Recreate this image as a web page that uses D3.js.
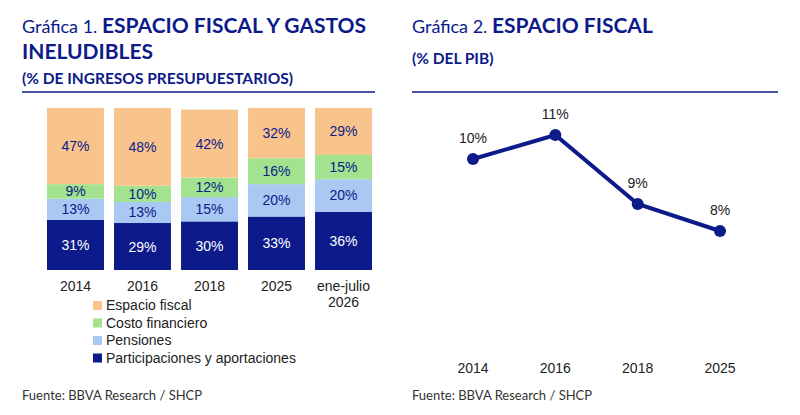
<!DOCTYPE html><html><head><meta charset="utf-8">
<script src="https://cdn.jsdelivr.net/npm/d3@7"></script>
<style>body{margin:0;background:#fff}svg{display:block}</style></head><body>
<svg id="c" width="800" height="415"></svg>
<script>
const categories=["2014","2016","2018","2025","ene-julio\n2026"];
const participaciones=[31,29,30,33,36];
const pensiones=[13,13,15,20,20];
const costo=[9,10,12,16,15];
const espacio=[47,48,42,32,29];
const seriesNames=["Participaciones y aportaciones","Pensiones","Costo financiero","Espacio fiscal"];
const years2=["2014","2016","2018","2025"];
const pib=[10.4,11.2,8.9,8.0];
const pibLabels=["10%","11%","9%","8%"];

const navy="#0c1a8a", colors=["#0c1a8a","#a9c9f2","#a3e28e","#f8c48c"];
const svg=d3.select("#c");
const F="Liberation Sans, Arial, sans-serif", T="Lato, sans-serif";

function header(x,line1a,line1b,line2,sub,y0,x2){
  const t=svg.append("text").attr("x",x).attr("y",33).attr("font-family",T).attr("fill",navy).attr("font-size",18);
  t.append("tspan").text(line1a);
  t.append("tspan").attr("font-weight","bold").attr("font-size",21).text(line1b);
  if(line2) svg.append("text").attr("x",x).attr("y",59).attr("font-family",T).attr("font-weight","bold").attr("font-size",21).attr("fill",navy).text(line2);
  svg.append("text").attr("x",x).attr("y",y0).attr("font-family",T).attr("font-weight","bold").attr("font-size",15.5).attr("fill",navy).text(sub);
  svg.append("line").attr("x1",x).attr("x2",x2).attr("y1",92).attr("y2",92).attr("stroke",navy).attr("stroke-width",1.5);
}
header(22,"Gráfica 1. ","ESPACIO FISCAL Y GASTOS","INELUDIBLES","(% DE INGRESOS PRESUPUESTARIOS)",84,375);
header(412,"Gráfica 2. ","ESPACIO FISCAL",null,"(% DEL PIB)",64,778);

const x=d3.scaleBand().domain(categories).range([43,376]).paddingInner(0.15).paddingOuter(0.06);
const y=d3.scaleLinear().domain([0,100]).range([270,108]);
const data=categories.map((c,i)=>({cat:c,p:participaciones[i],pe:pensiones[i],c:costo[i],e:espacio[i]}));
const stack=d3.stack().keys(["p","pe","c","e"])(data);
stack.forEach((s,k)=>{
  const g=svg.append("g");
  g.selectAll("rect").data(s).join("rect").attr("x",d=>x(d.data.cat)).attr("width",x.bandwidth())
   .attr("y",d=>y(Math.min(100,d[1]))).attr("height",d=>y(d[0])-y(Math.min(100,d[1]))).attr("fill",colors[k]);
  g.selectAll("text").data(s).join("text").attr("x",d=>x(d.data.cat)+x.bandwidth()/2)
   .attr("y",d=>(y(d[0])+y(Math.min(100,d[1])))/2+5).attr("text-anchor","middle").attr("font-family",F)
   .attr("font-size",14).attr("fill",k==0?"#fff":navy).text(d=>(d[1]-d[0])+"%");
});
categories.forEach(c=>{
  const t=svg.append("text").attr("x",x(c)+x.bandwidth()/2).attr("y",291).attr("text-anchor","middle")
    .attr("font-family",F).attr("font-size",14).attr("fill","#222");
  c.split("\n").forEach((l,i)=>t.append("tspan").attr("x",x(c)+x.bandwidth()/2).attr("dy",i?16:0).text(l));
});
[...seriesNames].reverse().forEach((n,i)=>{
  const yy=306+i*17.5;
  svg.append("rect").attr("x",93).attr("y",yy-5).attr("width",9).attr("height",9).attr("fill",colors[3-i]);
  svg.append("text").attr("x",106).attr("y",yy+4).attr("font-family",F).attr("font-size",14).attr("fill","#222").text(n);
});

const x2=d3.scalePoint().domain(years2).range([473,720]);
const y2=d3.scaleLinear().domain([7,12]).range([261,111]);
svg.append("path").datum(pib).attr("fill","none").attr("stroke",navy).attr("stroke-width",4)
  .attr("d",d3.line().x((d,i)=>x2(years2[i])).y(d=>y2(d)));
svg.selectAll(".pt").data(pib).join("circle").attr("cx",(d,i)=>x2(years2[i])).attr("cy",d=>y2(d)).attr("r",6).attr("fill",navy);
svg.selectAll(".lb").data(pib).join("text").attr("x",(d,i)=>x2(years2[i])).attr("y",d=>y2(d)-16).attr("text-anchor","middle")
  .attr("font-family",F).attr("font-size",14).attr("fill","#222").text((d,i)=>pibLabels[i]);
years2.forEach(yv=>svg.append("text").attr("x",x2(yv)).attr("y",373).attr("text-anchor","middle").attr("font-family",F).attr("font-size",14).attr("fill","#222").text(yv));

[22,412].forEach(fx=>svg.append("text").attr("x",fx).attr("y",400).attr("font-family",T).attr("font-size",13).attr("fill","#333").text("Fuente: BBVA Research / SHCP"));
</script></body></html>
